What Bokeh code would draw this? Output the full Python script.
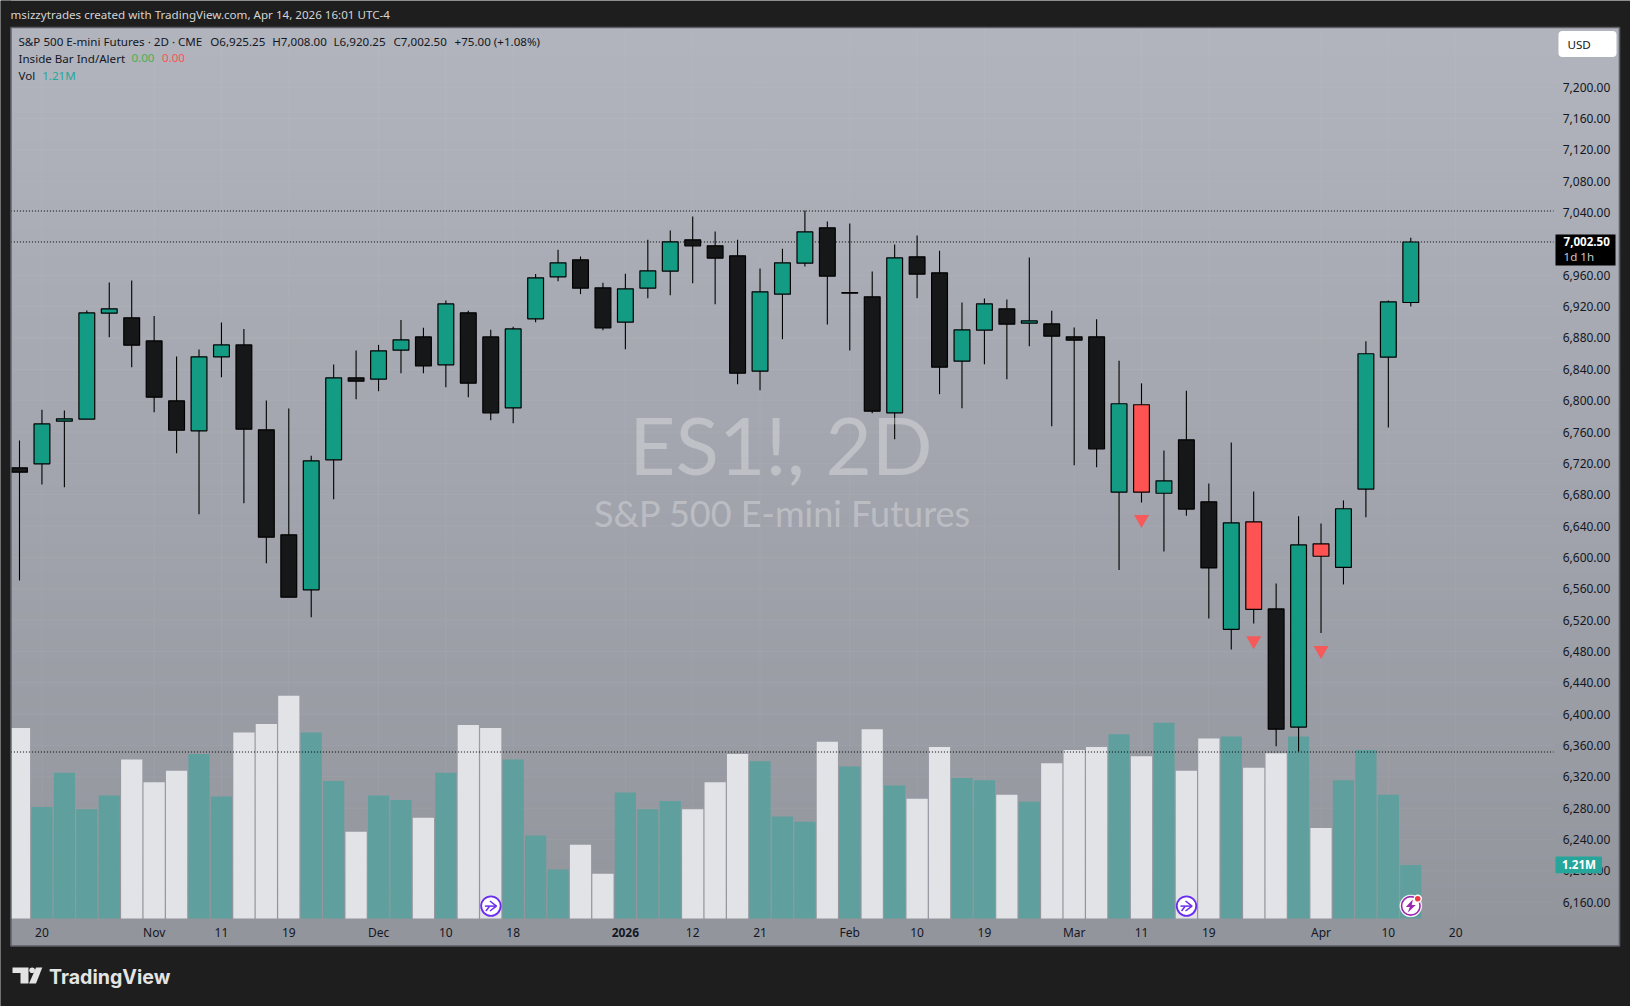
import numpy as np
from bokeh.plotting import figure
from bokeh.embed import file_html
from bokeh.resources import INLINE
from bokeh.models import (Range1d, LinearAxis, FixedTicker, NumeralTickFormatter, Label,
                          BoxAnnotation, ColumnDataSource)

opens = [6714.3,6719.4,6773.8,6776.4,6911.6,6905.7,6876.3,6799.8,6761.5,6855.9,6871.2,6762.8,6628.8,6558.6,6724.5,6829.1,
         6827.4,6864.4,6881.4,6845.7,6912.1,6881.4,6790.8,6904.4,6958.0,6979.7,6944.0,6900.2,6943.6,6965.3,7005.2,6997.6,
         6984.8,6837.7,6935.9,6975.5,7020.6,6938.0,6932.5,6784.5,6983.6,6963.1,6850.4,6890.0,6917.2,6898.9,6898.0,6881.5,
         6881.5,6683.2,6794.8,6681.9,6750.0,6670.9,6508.3,6645.4,6534.3,6383.5,6617.3,6587.4,6687.2,6855.5,6925.25]
highs = [6749.2,6788.3,6787.4,6915.0,6950.8,6953.3,6908.2,6856.3,6865.3,6899.7,6891.6,6800.2,6790.0,6729.6,6846.1,6864.0,
         6871.2,6903.1,6892.9,6927.8,6914.6,6890.4,6894.2,6961.8,6992.5,6984.0,6950.4,6961.9,7005.2,7017.2,7035.0,7015.9,
         7005.2,6968.7,6993.8,7042.7,7028.6,7026.1,6964.8,6999.3,7010.8,6991.2,6925.3,6930.4,6929.1,6982.7,6914.7,6893.4,
         6904.0,6851.1,6822.1,6736.4,6812.8,6694.2,6746.5,6684.1,6566.8,6652.5,6643.2,6672.7,6875.7,6927.9,7008.0]
lows = [6570.5,6693.0,6689.6,6776.4,6881.0,6842.7,6785.3,6733.0,6655.2,6830.0,6669.2,6592.6,6549.3,6523.7,6674.3,6801.9,
        6812.1,6835.1,6835.1,6817.2,6804.5,6775.1,6771.3,6900.2,6952.5,6935.9,6890.0,6865.7,6930.8,6934.6,6950.0,6923.2,
        6821.1,6813.4,6878.5,6971.2,6897.2,6864.0,6784.0,6750.9,6930.8,6808.3,6790.5,6846.6,6827.5,6869.6,6767.5,6717.7,
        6715.2,6583.9,6670.0,6607.6,6653.3,6522.0,6482.4,6515.8,6358.9,6352.4,6503.5,6565.5,6651.1,6765.8,6920.25]
closes = [6708.8,6770.4,6776.8,6912.0,6917.2,6870.8,6804.5,6762.3,6855.9,6871.2,6763.6,6625.8,6549.3,6723.2,6829.1,6824.9,
          6863.6,6877.6,6844.4,6923.5,6822.3,6784.5,6891.6,6956.7,6975.9,6943.6,6893.0,6942.7,6965.7,7002.7,6997.6,6981.9,
          6835.1,6938.9,6975.9,7015.5,6958.9,6937.2,6786.6,6982.3,6961.4,6842.8,6890.4,6923.6,6897.6,6901.9,6882.3,6877.2,
          6738.6,6796.1,6683.2,6697.7,6661.7,6586.6,6644.1,6533.8,6380.9,6616.0,6601.5,6662.1,6859.9,6926.2,7002.5]
volumes = [4.31,2.52,3.30,2.47,2.78,3.60,3.08,3.34,3.72,2.76,4.21,4.40,5.04,4.21,3.11,1.96,2.78,2.68,2.28,3.30,4.38,4.31,
           3.60,1.88,1.11,1.67,1.01,2.85,2.47,2.66,2.47,3.08,3.72,3.56,2.31,2.19,4.00,3.44,4.28,3.01,2.71,3.88,3.18,3.13,
           2.80,2.64,3.51,3.81,3.88,4.17,3.67,4.43,3.34,4.07,4.12,3.41,3.74,4.12,2.05,3.13,3.81,2.80,1.21]
vol_up = "0111100011000110110100111" + "00111000111" + "0" + "1" + "0" + "1" + "00" + "11" + "0" + "1" + "000" + "1" + "0" + "1" + "00" + "1" + "00" + "1" + "0" + "1111"
inside_bars = [50, 55, 58]
marker_bars = [50, 55, 58]
marker_prices = [6648.5, 6494.0, 6481.5]
price_ticks = [p for p in range(7200, 6120, -40) if p != 7000]
time_ticks = [1, 6, 9, 12, 16, 19, 22, 30, 33, 37, 40, 43, 47, 50, 53, 58, 61, 64]
time_labels = ["20", "Nov", "11", "19", "Dec", "10", "18", "12", "21", "Feb", "10", "19", "Mar", "11", "19", "Apr", "10", "20"]
year_tick = 27
year_label = "2026"
level_lines = [7042.0, 7002.5, 6351.7]
n = len(opens)
bars = np.arange(n)

# pixel (page) <-> data mapping: frame fills the whole figure
BAR_PX, BAR0_PX = 22.44, 19.0
PX_PER_PT, P0_PY = 0.7837, 86.7
PX_PER_M, V0_PY = 44.2, 918.0
def X(px): return (px - BAR0_PX) / BAR_PX
def Y(py): return 7200 - (py - P0_PY) / PX_PER_PT

W, H = 1630, 1006
p = figure(width=W, height=H, output_backend="svg", toolbar_location=None,
           x_axis_type=None, y_axis_type=None,
           x_range=Range1d(X(0), X(W)), y_range=Range1d(Y(H), Y(0)),
           min_border=0, min_border_left=0, min_border_right=0, min_border_top=0, min_border_bottom=0,
           background_fill_color="#1e1e1e", border_fill_color="#1e1e1e")
p.outline_line_color = None
p.grid.visible = False
p.extra_y_ranges = {"vol": Range1d(-(H - V0_PY) / PX_PER_M, V0_PY / PX_PER_M)}

L_, R_, T_, B_ = 10.4, 1619, 27, 945.5
# panel gradient
grad_h = 256
top_c, bot_c = np.array([178, 181, 190]), np.array([147, 149, 157])
img = np.zeros((grad_h, 2), dtype=np.uint32)
view = img.view(dtype=np.uint8).reshape((grad_h, 2, 4))
for r in range(grad_h):
    t = r / (grad_h - 1)          # row 0 = bottom of the image
    c = bot_c + (top_c - bot_c) * t
    view[r, :, 0], view[r, :, 1], view[r, :, 2] = c[0], c[1], c[2]
    view[r, :, 3] = 255
p.image_rgba(image=[img], x=X(L_), y=Y(B_), dw=X(R_) - X(L_), dh=Y(T_) - Y(B_), level="image")

# grid
grid_col, grid_alpha = "#ffffff", 0.05
p.segment(x0=[X(L_)] * 27, x1=[X(1554)] * 27, y0=[7200 - 40 * i for i in range(27)], y1=[7200 - 40 * i for i in range(27)],
          line_color=grid_col, line_alpha=grid_alpha, line_width=1, level="underlay")
vt = time_ticks + [year_tick]
p.segment(x0=vt, x1=vt, y0=[Y(T_)] * len(vt), y1=[Y(918)] * len(vt),
          line_color=grid_col, line_alpha=grid_alpha, line_width=1, level="underlay")

# volume
vcol = ["#5fa09e" if c == "1" else "#e2e3e6" for c in vol_up]
p.vbar(x=bars, width=0.945, bottom=0, top=volumes, fill_color=vcol, line_color=None, y_range_name="vol")

# level lines
p.segment(x0=[X(L_)] * 3, x1=[X(1553)] * 3, y0=level_lines, y1=level_lines,
          line_color="#000000", line_width=1, line_dash="1 2")

# candles
ccol = []
for i in bars:
    if i in inside_bars:
        ccol.append("#ff5252")
    elif closes[i] >= opens[i]:
        ccol.append("#149b84")
    else:
        ccol.append("#161719")
p.segment(x0=bars, x1=bars, y0=lows, y1=highs, line_color="#000000", line_width=1.1)
p.vbar(x=bars, width=0.705, bottom=np.minimum(opens, closes), top=np.maximum(opens, closes),
       fill_color=ccol, line_color="#000000", line_width=1.2)

# inside bar markers
p.scatter(x=marker_bars, y=marker_prices, marker="inverted_triangle", size=15, fill_color="#ff5252",
          line_color=None, fill_alpha=0.9)

# cover + panel border
p.quad(left=X(0), right=X(L_), top=Y(0), bottom=Y(H), fill_color="#1e1e1e", line_color=None)
p.quad(left=X(L_), right=X(R_), top=Y(T_), bottom=Y(B_), fill_alpha=0, line_color="#5d5e63", line_width=1.6)

FONT = "Noto Sans"
INK = "#131722"
# axes
ax = LinearAxis(fixed_location=X(1556.2), ticker=FixedTicker(ticks=price_ticks),
                formatter=NumeralTickFormatter(format="0,0.00"), axis_line_color=None,
                major_tick_line_color=None, minor_tick_line_color=None, major_label_standoff=0,
                major_label_text_font=FONT, major_label_text_font_size="12px", major_label_text_color=INK)
p.add_layout(ax, "right")
tx = LinearAxis(fixed_location=Y(917), ticker=FixedTicker(ticks=time_ticks),
                major_label_overrides=dict(zip(time_ticks, time_labels)), axis_line_color=None,
                major_tick_line_color=None, minor_tick_line_color=None, major_label_standoff=0,
                major_label_text_font=FONT, major_label_text_font_size="12px", major_label_text_color=INK)
p.add_layout(tx, "below")
ty = LinearAxis(fixed_location=Y(921), ticker=FixedTicker(ticks=[year_tick]),
                major_label_overrides={year_tick: year_label}, axis_line_color=None,
                major_tick_line_color=None, minor_tick_line_color=None, major_label_standoff=0,
                major_label_text_font=FONT, major_label_text_font_size="12px", major_label_text_color=INK,
                major_label_text_font_style="bold")
p.add_layout(ty, "below")

def label(px, py, text, size=11.6, color=INK, align="left", style="normal", alpha=1.0, font=FONT, baseline="middle"):
    p.add_layout(Label(x=X(px), y=Y(py), text=text, text_font=font, text_font_size=f"{size}px",
                       text_color=color, text_align=align, text_baseline=baseline,
                       text_font_style=style, text_alpha=alpha))

def box(l, r, t, b, color, radius=0):
    p.add_layout(BoxAnnotation(left=X(l), right=X(r), top=Y(t), bottom=Y(b), fill_color=color, fill_alpha=1,
                               line_color=None, border_radius=radius))

# watermark
label(780.5, 443, "ES1!, 2D", size=80, color="#ffffff", align="center", alpha=0.3, font="Lato")
label(782, 512, "S&P 500 E-mini Futures", size=36, color="#ffffff", align="center", alpha=0.3, font="Lato")

# caption and legend
label(10, 13.5, "msizzytrades created with TradingView.com, Apr 14, 2026 16:01 UTC-4", color="#d4d4d4")
label(18, 40.5, "S&P 500 E-mini Futures · 2D · CME")
label(209.7, 40.5, "O6,925.25")
label(271.7, 40.5, "H7,008.00")
label(333, 40.5, "L6,920.25")
label(393, 40.5, "C7,002.50")
label(454, 40.5, "+75.00 (+1.08%)")
label(18, 57.5, "Inside Bar Ind/Alert")
label(130.9, 57.5, "0.00", color="#4caf50")
label(161.5, 57.5, "0.00", color="#ff5252")
label(18, 74.5, "Vol")
label(41.7, 74.5, "1.21M", color="#26a69a")

# USD box
box(1558, 1616, 30.5, 56.5, "#ffffff", radius=4)
label(1567, 43.5, "USD")
# last price box
box(1555, 1615, 234, 265, "#000000")
label(1563, 241, "7,002.50", color="#ffffff", style="bold")
label(1563, 255.5, "1d 1h", color="#c8c8c8")
# volume box
box(1555, 1601.5, 856, 872.7, "#26a69a", radius=1)
label(1578.5, 864, "1.21M", color="#ffffff", align="center", style="bold")

# time-scale marks
for cx, ring in [(490.4, "#6a2cf0"), (1186.0, "#6a2cf0")]:
    p.scatter(x=[X(cx)], y=[Y(905.6)], marker="circle", size=19.5, fill_color="#ffffff", line_color=ring, line_width=1.8)
    p.multi_line(xs=[[X(cx - 6), X(cx + 5.5)], [X(cx - 1), X(cx + 5.5), X(cx - 1)], [X(cx - 5), X(cx - 1.5)]],
                 ys=[[Y(905.6), Y(905.6)], [Y(900.5), Y(905.6), Y(910.5)], [Y(910.5), Y(906)]],
                 line_color=ring, line_width=1.5)
cx = 1410.3
p.scatter(x=[X(cx)], y=[Y(905.4)], marker="circle", size=22, fill_color="#ffffff", line_color="#ffffff", line_width=0.5)
p.scatter(x=[X(cx)], y=[Y(905.4)], marker="circle", size=18.5, fill_color="#ffffff", line_color="#9c27b0", line_width=1.6)
p.patch(x=[X(cx + d) for d in (2, -5, -1, -3, 5, 1)], y=[Y(905.4 + d) for d in (-6.5, 1, 1, 6.5, -1, -1)],
        fill_color="#9c27b0", line_color=None)
p.scatter(x=[X(1417.3)], y=[Y(898.3)], marker="circle", size=7, fill_color="#f23645", line_color="#ffffff", line_width=1.4)

# TradingView logo
logo = "#e4e4e4"
p.patch(x=[X(v) for v in (12, 28, 28, 20, 20, 12)], y=[Y(v) for v in (967, 967, 983, 983, 972.5, 972.5)],
        fill_color=logo, line_color=None)
p.scatter(x=[X(31.6)], y=[Y(969.8)], marker="circle", size=5.6, fill_color=logo, line_color=None)
p.patch(x=[X(v) for v in (35.5, 41.8, 35.5, 28.5)], y=[Y(v) for v in (967, 967, 983, 983)],
        fill_color=logo, line_color=None)
label(48.5, 976, "TradingView", size=19.6, color=logo, style="bold", font="Inter")

open("out.html", "w").write(file_html(p, INLINE))
